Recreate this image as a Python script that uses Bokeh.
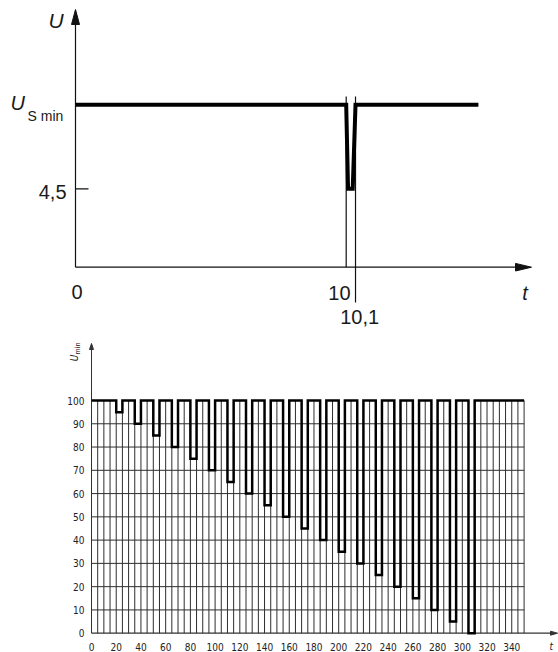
import numpy as np
from bokeh.plotting import figure
from bokeh.layouts import column
from bokeh.models import Range1d
from bokeh.core.properties import value
from bokeh.embed import file_html
from bokeh.resources import INLINE

# ---------------- top chart data (schematic, not to scale) ----------------
u_s_min = 9.32                 # schematic level of U_S min
u_dip = 4.5                    # dip level
dip_t = [10.0, 10.02, 10.07, 10.1]   # dip: start, reach 4.5, leave 4.5, end
t_line_end = 14.64
top_xtick_vals = [0, 10.0, 10.1]
top_xtick_text = ["0", "10", "10,1"]

# ---------------- bottom chart data ----------------
dip_start = [20, 35, 50, 65, 80, 95, 110, 125, 140, 155,
             170, 185, 200, 215, 230, 245, 260, 275, 290, 305]
dip_level = [95, 90, 85, 80, 75, 70, 65, 60, 55, 50,
             45, 40, 35, 30, 25, 20, 15, 10, 5, 0]
dip_width = 5
u_nominal = 100
t_max = 350
y_ticks = [0, 10, 20, 30, 40, 50, 60, 70, 80, 90, 100]
x_ticks = [0, 20, 40, 60, 80, 100, 120, 140, 160, 180, 200, 220, 240,
           260, 280, 300, 320, 340]
x_grid = list(range(5, 355, 5))
y_grid = [10, 20, 30, 40, 50, 60, 70, 80, 90]

W, H1, H2 = 558, 328, 324
AX = "#111111"
TXT = "#1a1a1a"

# ============ top figure ============
kx1, ky1 = 27.07, 17.42
ox1, oy1 = 75.0, 266.7
p1 = figure(width=W, height=H1, output_backend="svg", toolbar_location=None,
            x_range=Range1d(-ox1 / kx1, (W - ox1) / kx1),
            y_range=Range1d(-(H1 - oy1) / ky1, oy1 / ky1),
            x_axis_type=None, y_axis_type=None, min_border=0)
p1.outline_line_color = None
p1.background_fill_color = "white"
p1.border_fill_color = "white"

def X1(px):
    return (px - ox1) / kx1

def Y1(py):
    return (oy1 - py) / ky1

STRETCH = 3.44
def sx(t):
    t = np.asarray(t, dtype=float)
    return np.where(t <= 10, t,
                    np.where(t <= 10.1, 10 + (t - 10) * STRETCH,
                             t + 0.1 * (STRETCH - 1)))

f1 = value("Liberation Sans")

# axes with arrow heads
y_tip1 = Y1(9)
x_tip1 = X1(531)
p1.line([0, 0], [0, y_tip1 - 12 / ky1], line_color=AX, line_width=1.2)
p1.line([0, x_tip1 - 12 / kx1], [0, 0], line_color=AX, line_width=1.2)
p1.patch([0, -4 / kx1, 4 / kx1], [y_tip1, y_tip1 - 15 / ky1, y_tip1 - 15 / ky1],
         color=AX)
p1.patch([x_tip1, x_tip1 - 16 / kx1, x_tip1 - 16 / kx1], [0, 3.8 / ky1, -3.8 / ky1],
         color=AX)
# tick at 4.5
p1.segment(x0=[0], y0=[u_dip], x1=[13 / kx1], y1=[u_dip], line_color=AX, line_width=1.2)

# thin verticals at 10 and 10.1
vx = sx([dip_t[0], dip_t[-1]])
p1.segment(x0=vx, y0=[u_s_min + 8.3 / ky1] * 2, x1=vx, y1=[0, Y1(302)],
           line_color=AX, line_width=1.2)

# signal
sig_t = [0] + dip_t + [t_line_end]
sig_u = [u_s_min, u_s_min, u_dip, u_dip, u_s_min, u_s_min]
p1.line(sx(sig_t), sig_u, line_color="black", line_width=4, line_join="miter")

# texts (vertically centred on the caps)
def t1(x, y, s, size, align="center", italic=False):
    p1.text(x=[x], y=[y], text=[s], text_font=f1, text_font_size=value(size),
            text_font_style="italic" if italic else "normal",
            text_align=align, text_baseline="middle", text_color=TXT)

t1(X1(55.5), Y1(20), "U", "21px", italic=True)
t1(X1(10), Y1(102), "U", "20px", align="left", italic=True)
t1(X1(27), Y1(115), "S min", "14px", align="left")
t1(X1(66), Y1(191.5), "4,5", "20px", align="right")
tx = sx(top_xtick_vals)
t1(float(tx[0]) + 1.5 / kx1, Y1(291), top_xtick_text[0], "20px")
t1(float(tx[1]) + 4.3 / kx1, Y1(292), top_xtick_text[1], "20px", align="right")
t1(float(tx[2]) + 4.2 / kx1, Y1(316), top_xtick_text[2], "20px")
t1(X1(524.5), Y1(292), "t", "20px", italic=True)

# ============ bottom figure ============
kx2, ky2 = 1.236, 2.327
ox2, oy2 = 91.0, 304.7          # origin in this figure's pixels
p2 = figure(width=W, height=H2, output_backend="svg", toolbar_location=None,
            x_range=Range1d(-ox2 / kx2, (W - ox2) / kx2),
            y_range=Range1d(-(H2 - oy2) / ky2, oy2 / ky2),
            x_axis_type=None, y_axis_type=None, min_border=0)
p2.outline_line_color = None
p2.background_fill_color = "white"
p2.border_fill_color = "white"

def X2(px):
    return (px - ox2) / kx2

def Y2(py):          # py in full-page pixels
    return (oy2 - (py - H1)) / ky2

f2 = value("DejaVu Sans Condensed")
GRID = "#2e2e2e"
T2 = "#222222"

# grid
p2.segment(x0=x_grid, y0=[0] * len(x_grid), x1=x_grid, y1=[u_nominal] * len(x_grid),
           line_color=GRID, line_width=1)
p2.segment(x0=[0] * len(y_grid), y0=y_grid, x1=[t_max] * len(y_grid), y1=y_grid,
           line_color=GRID, line_width=1)

# axes with arrow heads
y_tip2 = Y2(343)
x_tip2 = X2(557)
p2.line([0, 0], [0, y_tip2 - 5 / ky2], line_color="#333333", line_width=1)
p2.line([0, x_tip2 - 6 / kx2], [0, 0], line_color="#333333", line_width=1.2)
p2.patch([0, -2 / kx2, 2 / kx2], [y_tip2, y_tip2 - 6 / ky2, y_tip2 - 6 / ky2],
         color="#333333")
p2.patch([x_tip2, x_tip2 - 7 / kx2, x_tip2 - 7 / kx2], [0, 2 / ky2, -2 / ky2],
         color="#333333")

# signal
sxs, sys = [0], [u_nominal]
for s, lv in zip(dip_start, dip_level):
    sxs += [s, s, s + dip_width, s + dip_width]
    sys += [u_nominal, lv, lv, u_nominal]
sxs.append(t_max)
sys.append(u_nominal)
p2.line(sxs, sys, line_color="black", line_width=2.5, line_join="miter")

# tick labels
p2.text(x=[X2(84)] * len(y_ticks), y=y_ticks, text=[str(v) for v in y_ticks],
        text_font=f2, text_font_size=value("10px"), text_align="right",
        text_baseline="middle", text_color=T2)
p2.text(x=x_ticks, y=[Y2(646)] * len(x_ticks), text=[str(v) for v in x_ticks],
        text_font=f2, text_font_size=value("10px"), text_align="center",
        text_baseline="middle", text_color=T2)

# axis titles
p2.text(x=[X2(73.5)], y=[Y2(357.5)], text=["U"], angle=np.pi / 2,
        text_font=f2, text_font_size=value("10px"), text_font_style="italic",
        text_align="center", text_baseline="middle", text_color=T2)
p2.text(x=[X2(77.8)], y=[Y2(348)], text=["min"], angle=np.pi / 2,
        text_font=f2, text_font_size=value("7px"),
        text_align="center", text_baseline="middle", text_color=T2)
p2.text(x=[X2(549)], y=[Y2(646)], text=["t"],
        text_font=f2, text_font_size=value("10px"), text_font_style="italic",
        text_align="left", text_baseline="middle", text_color=T2)

layout = column(p1, p2, spacing=0)
open("out.html", "w").write(file_html(layout, INLINE))
